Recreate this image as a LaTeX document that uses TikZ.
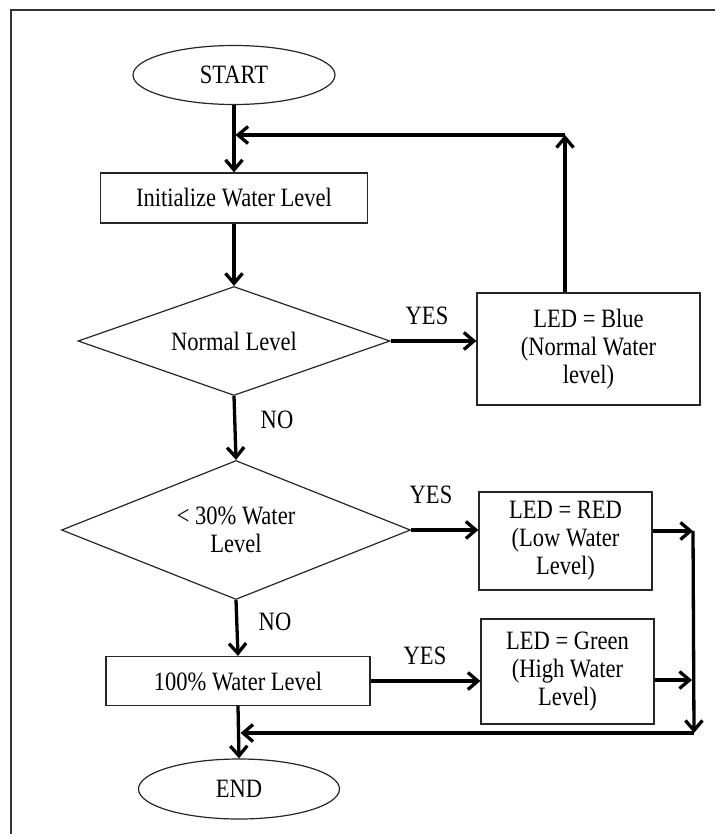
\documentclass[tikz,border=0pt]{standalone}
\usepackage{fontspec}
\setmainfont[FakeStretch=0.85]{Liberation Serif}
\usetikzlibrary{shapes.geometric,arrows.meta}
\begin{document}
\begin{tikzpicture}[x=1pt,y=-1pt,
  every node/.style={font=\fontsize{26.5}{28}\selectfont, align=center},
  shapebox/.style={draw=black!85, line width=1.2pt, inner sep=0pt},
  term/.style={shapebox, ellipse},
  procbox/.style={shapebox, rectangle},
  decision/.style={shapebox, diamond, aspect=2.5},
  flow/.style={line width=3.3pt, -{Straight Barb[length=10pt,width=17pt,line width=3.3pt]}},
  lbl/.style={inner sep=0pt}
]
\useasboundingbox (0,0) rectangle (715,834);
\draw[line width=1.6pt, black!80] (715,10) -- (11,10) -- (11,834);

\node[term, minimum width=202pt, minimum height=59pt] (start) at (234,75) {START};
\node[procbox, minimum width=267pt, minimum height=50pt] (init) at (234,198) {Initialize Water Level};
\node[decision, minimum width=312pt, minimum height=109pt] (normal) at (234,341) {Normal Level};
\node[procbox, minimum width=223pt, minimum height=112pt] (blue) at (588.5,349) {LED = Blue\\(Normal Water\\level)};
\node[decision, minimum width=349pt, minimum height=139pt] (lt30) at (236,530) {< 30\% Water\\Level};
\node[procbox, minimum width=173pt, minimum height=98pt] (red) at (565.5,541) {LED = RED\\(Low Water\\Level)};
\node[procbox, minimum width=264pt, minimum height=49pt] (full) at (238,681) {100\% Water Level};
\node[procbox, minimum width=173pt, minimum height=105pt] (green) at (567.5,671.5) {LED = Green\\(High Water\\Level)};
\node[term, minimum width=201pt, minimum height=60pt] (end) at (239,789) {END};

\node[lbl] (yes1) at (427,316) {YES};
\node[lbl] (no1) at (277,420) {NO};
\node[lbl] (yes2) at (431,495) {YES};
\node[lbl] (no2) at (275,622) {NO};
\node[lbl] (yes3) at (425,656) {YES};

\coordinate (loopTop) at (565,135);
\coordinate (rj) at (693,531);
\coordinate (bj) at (694,733);
\coordinate (gj) at (692,680);

\draw[flow] (start.south) -- (init.north);
\draw[flow] (loopTop |- blue.north) -- (loopTop);
\draw[flow] (loopTop) -- ([xshift=1.5pt]loopTop -| start.south);
\draw[flow] (init.south) -- (normal.north);
\draw[flow] (normal.east) -- (normal.east -| blue.west);
\draw[flow] (normal.south) -- (lt30.north);
\draw[flow] (lt30.east) -- (lt30.east -| red.west);
\draw[flow] (rj -| red.east) -- (rj);
\draw[flow] (rj) -- (bj);
\draw[flow] (bj) -- ([xshift=1.5pt]bj -| end.north);
\draw[flow] (gj -| green.east) -- (gj);
\draw[flow] (lt30.south) -- (full.north);
\draw[flow] (full.east) -- (full.east -| green.west);
\draw[flow] (full.south) -- (end.north);
\end{tikzpicture}
\end{document}
